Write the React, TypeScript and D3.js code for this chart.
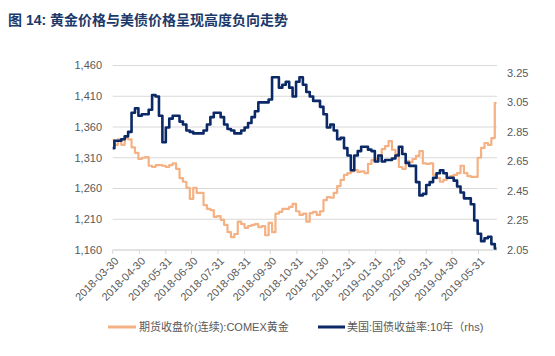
import React from "react";
import * as d3 from "d3";

const dates: string[] = [
  "2018-03-30","2018-04-03","2018-04-07","2018-04-11","2018-04-15","2018-04-19","2018-04-23","2018-04-27",
  "2018-05-01","2018-05-05","2018-05-09","2018-05-13","2018-05-17","2018-05-21","2018-05-25","2018-05-29",
  "2018-06-02","2018-06-06","2018-06-10","2018-06-14","2018-06-18","2018-06-22","2018-06-26","2018-06-30",
  "2018-07-04","2018-07-08","2018-07-12","2018-07-16","2018-07-20","2018-07-24","2018-07-28",
  "2018-08-01","2018-08-05","2018-08-09","2018-08-13","2018-08-17","2018-08-21","2018-08-25","2018-08-29",
  "2018-09-02","2018-09-06","2018-09-10","2018-09-14","2018-09-18","2018-09-22","2018-09-26","2018-09-30",
  "2018-10-04","2018-10-08","2018-10-12","2018-10-16","2018-10-20","2018-10-24","2018-10-28",
  "2018-11-01","2018-11-05","2018-11-09","2018-11-13","2018-11-17","2018-11-21","2018-11-25","2018-11-29",
  "2018-12-03","2018-12-07","2018-12-11","2018-12-15","2018-12-19","2018-12-23","2018-12-27","2018-12-31",
  "2019-01-04","2019-01-08","2019-01-12","2019-01-16","2019-01-20","2019-01-24","2019-01-28",
  "2019-02-01","2019-02-05","2019-02-09","2019-02-13","2019-02-17","2019-02-21","2019-02-25",
  "2019-03-01","2019-03-05","2019-03-09","2019-03-13","2019-03-17","2019-03-21","2019-03-25","2019-03-29",
  "2019-04-02","2019-04-06","2019-04-10","2019-04-14","2019-04-18","2019-04-22","2019-04-26","2019-04-30",
  "2019-05-04","2019-05-08","2019-05-12","2019-05-16","2019-05-20","2019-05-24","2019-05-28",
  "2019-06-01","2019-06-05","2019-06-09","2019-06-13","2019-06-17","2019-06-21",
];

const goldValues: number[] = [
  1339,1331,1340,1331,1342,1340,1327,1318,
  1308,1310,1311,1297,1295,1298,1298,1297,
  1295,1298,1301,1292,1277,1271,1261,1243,
  1261,1253,1253,1233,1227,1225,1214,
  1215,1209,1201,1189,1181,1186,1206,1202,
  1196,1199,1201,1202,1197,1199,1184,1204,
  1189,1219,1222,1227,1227,1230,1235,
  1223,1217,1219,1206,1220,1222,1217,1223,
  1241,1246,1245,1253,1264,1274,1282,1285,
  1288,1290,1287,1288,1285,1300,1306,
  1308,1314,1324,1329,1337,1323,1316,
  1295,1292,1305,1303,1308,1313,1321,1301,
  1300,1301,1282,1277,1271,1274,1277,1280,
  1282,1285,1297,1285,1280,1279,1279,
  1310,1326,1334,1331,1342,1399,
];

const yieldValues: number[] = [
  2.74,2.79,2.79,2.80,2.82,2.85,2.98,3.01,
  2.96,2.97,2.97,3.00,3.10,3.09,2.96,2.78,
  2.88,2.94,2.96,2.96,2.92,2.90,2.86,2.85,
  2.84,2.84,2.84,2.86,2.90,2.95,2.98,
  2.98,2.95,2.90,2.87,2.86,2.84,2.84,2.86,
  2.88,2.91,2.95,2.99,3.05,3.05,3.05,3.07,
  3.22,3.22,3.15,3.17,3.19,3.15,3.09,
  3.19,3.22,3.17,3.12,3.09,3.06,3.06,3.02,
  2.97,2.88,2.90,2.86,2.80,2.81,2.74,2.69,
  2.59,2.69,2.72,2.75,2.75,2.73,2.72,
  2.65,2.69,2.65,2.66,2.66,2.67,2.69,
  2.75,2.70,2.64,2.62,2.62,2.51,2.42,2.43,
  2.49,2.51,2.54,2.57,2.59,2.57,2.54,2.54,
  2.52,2.48,2.44,2.40,2.40,2.36,2.25,
  2.16,2.11,2.13,2.14,2.09,2.06,
];

const xTickLabels: string[] = [
  "2018-03-30","2018-04-30","2018-05-31","2018-06-30","2018-07-31","2018-08-31","2018-09-30",
  "2018-10-31","2018-11-30","2018-12-31","2019-01-31","2019-02-28","2019-03-31","2019-04-30","2019-05-31",
];
const leftTicks: number[] = [1160, 1210, 1260, 1310, 1360, 1410, 1460];
const rightTicks: number[] = [2.05, 2.25, 2.45, 2.65, 2.85, 3.05, 3.25];

const title = "图 14: 黄金价格与美债价格呈现高度负向走势";
const goldName = "期货收盘价(连续):COMEX黄金";
const yieldName = "美国:国债收益率:10年（rhs)";

const W = 555, H = 356;
const plot = { left: 112.7, right: 497, top: 65.5, bottom: 250 };
const GOLD = "#F4B183";
const NAVY = "#0B2867";
const FONT = "'Liberation Sans', Arial, 'Noto Sans CJK SC', sans-serif";
const parse = d3.timeParse("%Y-%m-%d");

export default function App() {
  const d0 = parse(dates[0])!;
  const d1 = parse(dates[dates.length - 1])!;
  const x = d3.scaleTime().domain([d0, d1]).range([plot.left, 496.5]);
  const yL = d3.scaleLinear().domain([1160, 1460]).range([plot.bottom, plot.top]);
  const yR = d3.scaleLinear().domain([2.05, 3.30]).range([plot.bottom, plot.top]);

  const goldLine = d3.line<number>()
    .curve(d3.curveStep)
    .x((_, i) => x(parse(dates[i])!))
    .y((v) => yL(v))(goldValues) || "";
  const yieldLine = d3.line<number>()
    .curve(d3.curveStep)
    .x((_, i) => x(parse(dates[i])!))
    .y((v) => yR(v))(yieldValues) || "";

  const fmtL = d3.format(",");
  const fmtR = d3.format(".2f");

  return (
    <svg width={W} height={H} style={{ position: "absolute", left: 0, top: 0, background: "#fff" }} fontFamily={FONT}>
      <text x={8} y={25} fontSize={14} fontWeight="bold" fill="#1B3A6B">{title}</text>

      {leftTicks.map((t) => (
        <line key={"g" + t} x1={plot.left} x2={plot.right} y1={yL(t)} y2={yL(t)} stroke="#D9D9D9" strokeWidth={1} />
      ))}
      <line x1={plot.left} x2={plot.right} y1={plot.bottom} y2={plot.bottom} stroke="#D9D9D9" strokeWidth={1} />
      {xTickLabels.map((s) => {
        const tx = x(parse(s)!);
        return <line key={"t" + s} x1={tx} x2={tx} y1={plot.bottom} y2={plot.bottom + 4} stroke="#D9D9D9" strokeWidth={1} />;
      })}

      {leftTicks.map((t) => (
        <text key={"l" + t} x={102} y={yL(t)} dy="0.35em" textAnchor="end" fontSize={11} fill="#595959">{fmtL(t)}</text>
      ))}
      {rightTicks.map((t) => (
        <text key={"r" + t} x={507} y={yR(t)} dy="0.35em" textAnchor="start" fontSize={11} fill="#595959">{fmtR(t)}</text>
      ))}
      {xTickLabels.map((s) => {
        const tx = x(parse(s)!);
        return (
          <text key={"x" + s} transform={`translate(${tx + 4},${plot.bottom + 9}) rotate(-45)`} textAnchor="end" dy="0.35em" fontSize={11} fill="#595959">{s}</text>
        );
      })}

      <path d={goldLine} fill="none" stroke={GOLD} strokeWidth={2.2} strokeLinejoin="round" />
      <path d={yieldLine} fill="none" stroke={NAVY} strokeWidth={2.6} strokeLinejoin="round" />

      <line x1={108} x2={136} y1={327} y2={327} stroke={GOLD} strokeWidth={3} />
      <text x={139} y={327} dy="0.35em" fontSize={11} fill="#595959">{goldName}</text>
      <line x1={318} x2={345} y1={327} y2={327} stroke={NAVY} strokeWidth={3} />
      <text x={347} y={327} dy="0.35em" fontSize={11} fill="#595959">{yieldName}</text>
    </svg>
  );
}
